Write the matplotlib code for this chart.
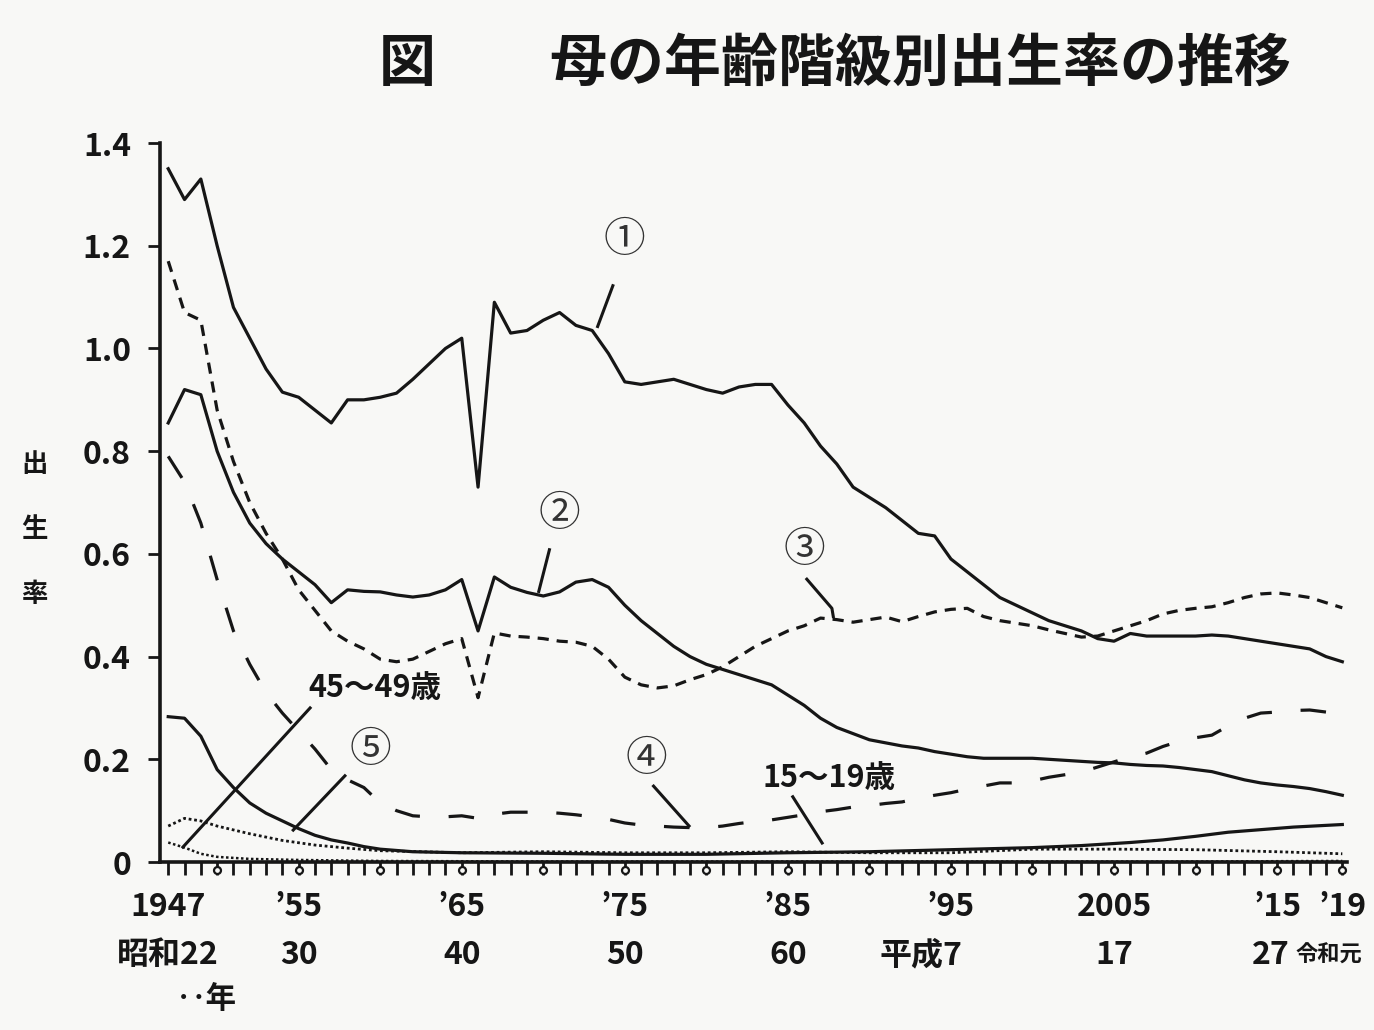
import numpy as np
import matplotlib.pyplot as plt

# age-specific fertility rates (5-year sum)
years = list(range(1947, 2020))

age_25_29 = [1.35, 1.29, 1.33, 1.20, 1.08, 1.02, 0.96, 0.915, 0.905, 0.88,
             0.855, 0.90, 0.90, 0.905, 0.913, 0.94, 0.97, 1.00, 1.02, 0.73,
             1.09, 1.03, 1.035, 1.055, 1.07, 1.045, 1.035, 0.99, 0.935, 0.93,
             0.935, 0.94, 0.93, 0.92, 0.913, 0.925, 0.93, 0.93, 0.89, 0.855,
             0.81, 0.775, 0.73, 0.71, 0.69, 0.665, 0.64, 0.635, 0.59, 0.565,
             0.54, 0.515, 0.50, 0.485, 0.47, 0.46, 0.45, 0.435, 0.43, 0.445,
             0.44, 0.44, 0.44, 0.44, 0.442, 0.44, 0.435, 0.43, 0.425, 0.42,
             0.415, 0.40, 0.39]

age_20_24 = [0.855, 0.92, 0.91, 0.80, 0.72, 0.66, 0.62, 0.59, 0.565, 0.54,
             0.505, 0.53, 0.527, 0.526, 0.52, 0.516, 0.52, 0.53, 0.55, 0.45,
             0.555, 0.535, 0.525, 0.518, 0.526, 0.545, 0.55, 0.535, 0.50, 0.47,
             0.445, 0.42, 0.40, 0.385, 0.375, 0.365, 0.355, 0.345, 0.325, 0.305,
             0.28, 0.262, 0.25, 0.238, 0.232, 0.226, 0.222, 0.215, 0.21, 0.205,
             0.202, 0.202, 0.202, 0.202, 0.20, 0.198, 0.196, 0.194, 0.193, 0.19,
             0.188, 0.187, 0.184, 0.18, 0.176, 0.168, 0.16, 0.154, 0.15, 0.147,
             0.143, 0.137, 0.13]

age_30_34 = [1.17, 1.07, 1.055, 0.88, 0.78, 0.70, 0.64, 0.59, 0.53, 0.49,
             0.45, 0.43, 0.415, 0.395, 0.39, 0.395, 0.41, 0.425, 0.435, 0.32,
             0.446, 0.44, 0.438, 0.435, 0.43, 0.428, 0.42, 0.395, 0.36, 0.345,
             0.339, 0.343, 0.355, 0.365, 0.38, 0.40, 0.42, 0.435, 0.45, 0.46,
             0.475, 0.472, 0.467, 0.472, 0.477, 0.468, 0.478, 0.487, 0.492, 0.494,
             0.478, 0.47, 0.465, 0.46, 0.452, 0.445, 0.438, 0.44, 0.45, 0.46,
             0.47, 0.483, 0.49, 0.494, 0.497, 0.505, 0.515, 0.522, 0.524, 0.52,
             0.515, 0.505, 0.495]

age_35_39 = [0.79, 0.74, 0.66, 0.55, 0.45, 0.385, 0.33, 0.29, 0.255, 0.22,
             0.18, 0.16, 0.145, 0.115, 0.10, 0.09, 0.088, 0.088, 0.09, 0.085,
             0.093, 0.097, 0.097, 0.097, 0.095, 0.092, 0.088, 0.083, 0.076, 0.072,
             0.07, 0.068, 0.067, 0.067, 0.07, 0.075, 0.079, 0.082, 0.087, 0.092,
             0.098, 0.102, 0.107, 0.11, 0.114, 0.117, 0.124, 0.13, 0.135, 0.142,
             0.148, 0.154, 0.154, 0.158, 0.165, 0.17, 0.175, 0.185, 0.195, 0.205,
             0.212, 0.225, 0.235, 0.242, 0.247, 0.265, 0.28, 0.29, 0.292, 0.295,
             0.296, 0.292, 0.288]

years_40_44 = [1947, 1948, 1949, 1950, 1951, 1952, 1953, 1954, 1955, 1956, 1957,
               1958, 1959, 1960, 1962, 1965, 1970, 1975, 1980, 1985, 1990, 1995,
               2000, 2003, 2006, 2008, 2010, 2012, 2014, 2016, 2019]
age_40_44 = [0.283, 0.28, 0.245, 0.18, 0.145, 0.115, 0.095, 0.08, 0.065, 0.052, 0.043,
             0.037, 0.03, 0.025, 0.02, 0.018, 0.017, 0.015, 0.015, 0.018, 0.02, 0.024,
             0.028, 0.032, 0.038, 0.043, 0.05, 0.058, 0.063, 0.068, 0.073]

years_15_19 = [1947, 1948, 1949, 1950, 1952, 1954, 1956, 1958, 1960, 1965, 1970,
               1975, 1980, 1985, 1990, 1995, 2000, 2005, 2010, 2015, 2019]
age_15_19 = [0.07, 0.085, 0.08, 0.07, 0.055, 0.042, 0.033, 0.027, 0.022, 0.018, 0.02,
             0.018, 0.018, 0.02, 0.018, 0.018, 0.025, 0.025, 0.024, 0.02, 0.016]

years_45_49 = [1947, 1948, 1949, 1950, 1952, 1955, 1960, 1970, 1980, 1990, 2000, 2010, 2019]
age_45_49 = [0.038, 0.028, 0.016, 0.01, 0.006, 0.004, 0.002, 0.001, 0.001, 0.001, 0.001, 0.001, 0.002]

tick_years = [1947, 1955, 1965, 1975, 1985, 1995, 2005, 2015, 2019]
tick_labels = ['1947', '’55', '’65', '’75', '’85', '’95', '2005', '’15', '’19']
era_labels = ['昭和22', '30', '40', '50', '60', '平成7', '17', '27', '令和元']

num_font = ['Liberation Sans Narrow', 'Noto Sans CJK JP', 'DejaVu Sans']
jp_font = ['Noto Sans CJK JP', 'DejaVu Sans']
ink = '#161616'
bg = '#f8f8f6'

fig = plt.figure(figsize=(13.74, 10.3), dpi=100, facecolor=bg)
ax = fig.add_axes([0.1165, 0.1631, 0.864, 0.698])
ax.set_facecolor(bg)

ax.plot(years, age_25_29, color=ink, lw=2.3)
ax.plot(years, age_20_24, color=ink, lw=2.3)
ax.plot(years, age_30_34, color=ink, lw=2.3, ls=(0, (3.5, 2.5)))
ax.plot(years, age_35_39, color=ink, lw=2.3, ls=(0, (8, 9)))
ax.plot(years_40_44, age_40_44, color=ink, lw=2.3)
ax.plot(years_15_19, age_15_19, color=ink, lw=2.0, ls=(0, (1, 1)))
ax.plot(years_45_49, age_45_49, color=ink, lw=1.8, ls=(0, (1, 1)))

ax.set_xlim(1946.5, 2019.3)
ax.set_ylim(0, 1.4)
for s in ['top', 'right']:
    ax.spines[s].set_visible(False)
for s in ['left', 'bottom']:
    ax.spines[s].set_linewidth(2.6)
    ax.spines[s].set_color(ink)

ax.set_yticks([0, 0.2, 0.4, 0.6, 0.8, 1.0, 1.2, 1.4])
ax.set_yticklabels(['0', '0.2', '0.4', '0.6', '0.8', '1.0', '1.2', '1.4'],
                   family=num_font, fontsize=23, fontweight='bold', color=ink)
ax.tick_params(axis='y', direction='out', length=9, width=2, pad=12, colors=ink)

ax.set_xticks(tick_years)
ax.set_xticklabels(tick_labels, family=num_font, fontsize=23, fontweight='bold', color=ink)
ax.set_xticks(np.arange(1947, 2020), minor=True)
ax.tick_params(axis='x', which='both', direction='out', length=9, width=2, pad=12, colors=ink)

# small open circles on the axis every five years
ring_years = list(np.arange(1950, 2016, 5)) + [2019]
ax.plot(ring_years, [-0.011] * len(ring_years), ls='none', marker='o', ms=5,
        mfc=bg, mec=ink, mew=1.6, clip_on=False,
        transform=ax.get_xaxis_transform())

xt = ax.get_xaxis_transform()
for yr, lab in zip(tick_years, era_labels):
    ha, x, size = 'center', yr, 23
    if lab == '平成7':
        ha, x = 'right', yr + 0.7
    elif lab == '27':
        x = yr - 0.4
    elif lab == '令和元':
        ha, x, size = 'right', yr + 1.2, 16
    ax.text(x, -0.13, lab, transform=xt, ha=ha, va='center', family=num_font,
            fontsize=size, fontweight='bold', color=ink)
fig.text(0.150, 0.030, '‥年', family=jp_font, fontsize=22, fontweight='bold',
         color=ink, ha='center', va='center')

fig.text(0.608, 0.938, '図　　母の年齢階級別出生率の推移', family=jp_font, fontsize=41,
         fontweight='bold', color=ink, ha='center', va='center')
fig.text(0.025, 0.486, '出\n生\n率', family=jp_font, fontsize=19, fontweight='bold',
         color=ink, ha='center', va='center', linespacing=2.8)

# labels with leader lines
labels = [
    ('①', (1975.0, 1.21), [(1974.3, 1.125), (1973.3, 1.04)]),
    ('②', (1971.0, 0.676), [(1970.4, 0.611), (1969.7, 0.524)]),
    ('③', (1986.0, 0.607), [(1986.1, 0.553), (1987.7, 0.494), (1987.8, 0.475)]),
    ('④', (1976.3, 0.20), [(1976.7, 0.15), (1979.0, 0.068)]),
    ('⑤', (1959.4, 0.218), [(1957.9, 0.17), (1954.6, 0.06)]),
]
for txt, pos, leader in labels:
    ax.text(pos[0], pos[1], txt, family=jp_font, fontsize=30, color='#333333',
            ha='center', va='center')
    lx, ly = zip(*leader)
    ax.plot(lx, ly, color=ink, lw=2.2, solid_capstyle='butt')

ax.text(1959.7, 0.339, '45～49歳', family=num_font, fontsize=22, fontweight='bold',
        color=ink, ha='center', va='center')
ax.plot([1955.7, 1947.9], [0.30, 0.029], color=ink, lw=2.2)
ax.text(1987.5, 0.163, '15～19歳', family=num_font, fontsize=22, fontweight='bold',
        color=ink, ha='center', va='center')
ax.plot([1985.3, 1987.1], [0.127, 0.037], color=ink, lw=2.2)

fig.savefig('out.png', dpi=100, facecolor=fig.get_facecolor())
